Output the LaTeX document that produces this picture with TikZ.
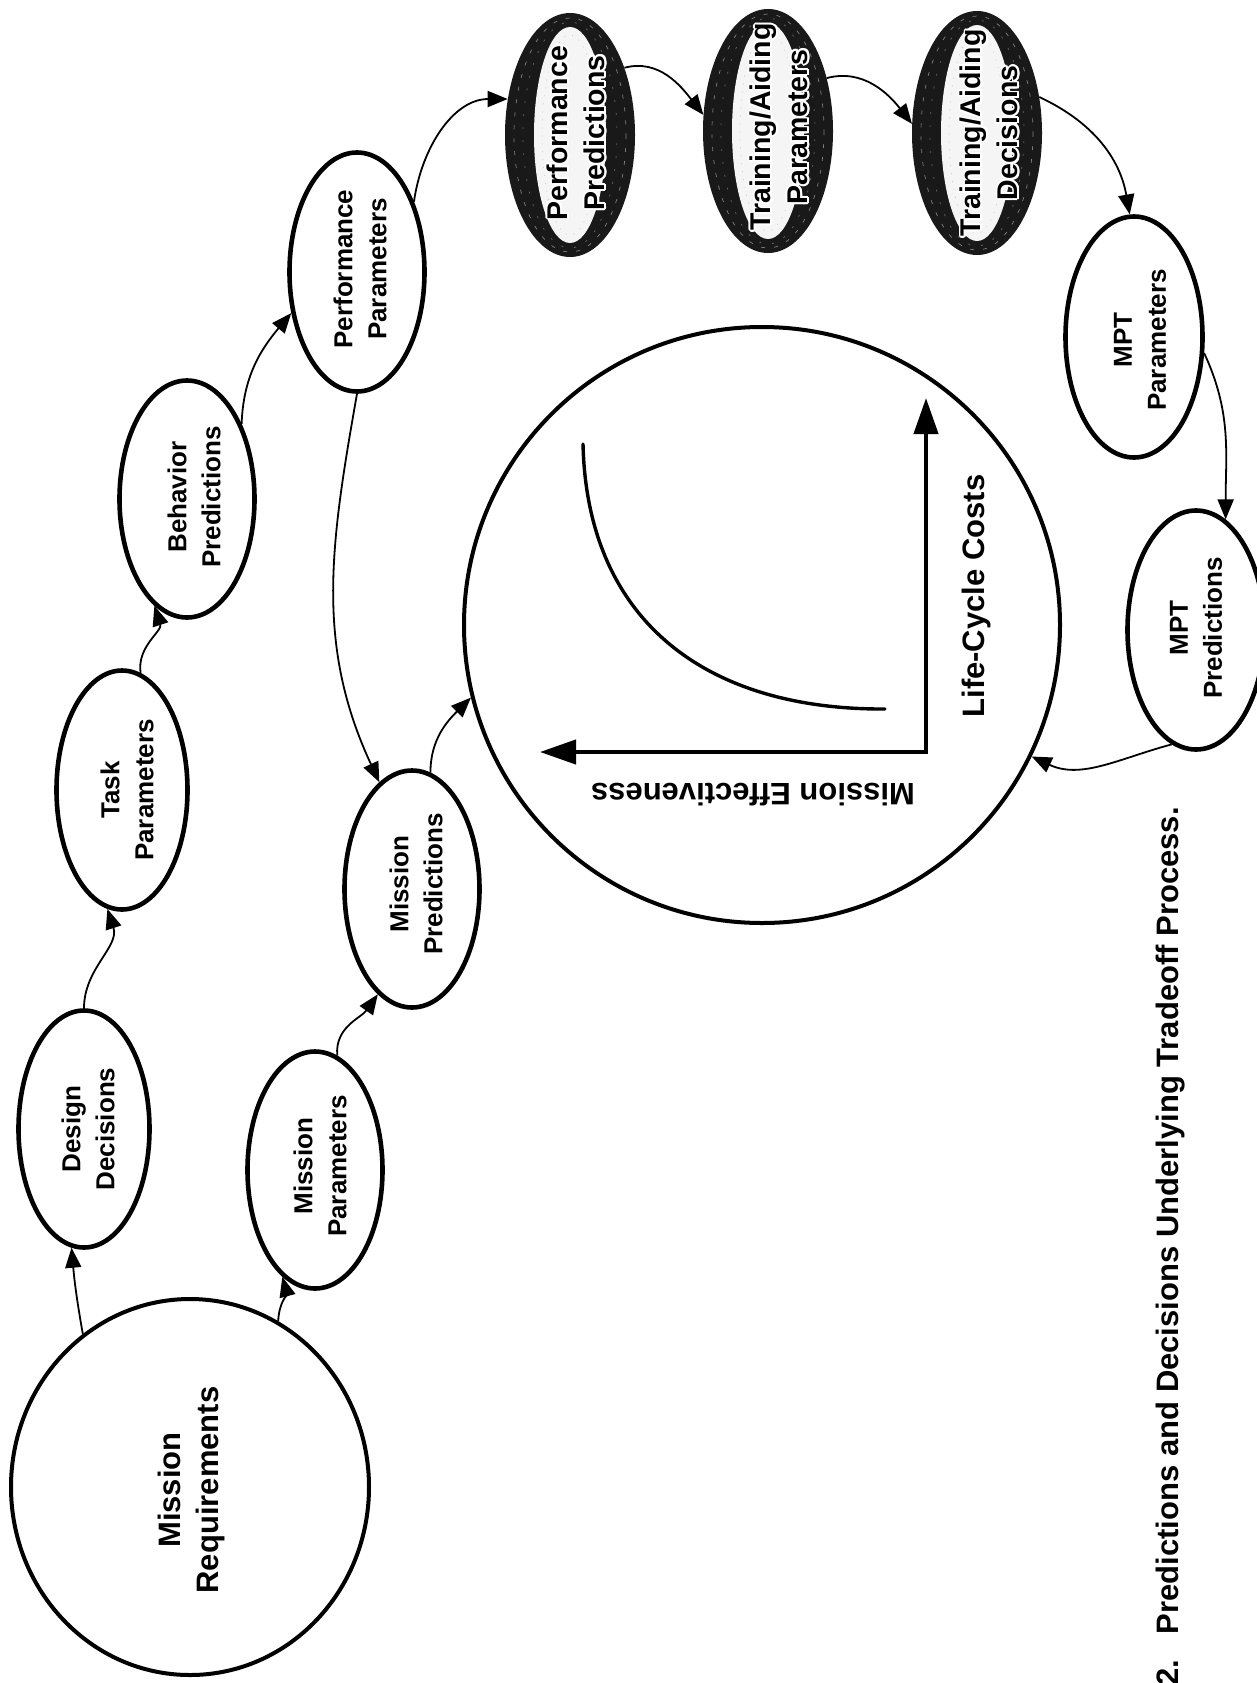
\documentclass[tikz,border=0pt]{standalone}
\usepackage{fontspec}
\setmainfont{Liberation Sans}
\usepackage{contour}
\contourlength{1.8pt}
\usetikzlibrary{shapes.geometric,arrows.meta}
\begin{document}
\begin{tikzpicture}[x=1pt,y=-1pt,
  oval/.style={ellipse, draw=black, line width=4.6pt, inner sep=0pt, fill=white},
  shoval/.style={ellipse, draw=none, fill=black!90, inner sep=0pt, minimum width=130pt, minimum height=244pt},
  small/.style={rotate=90, align=center, inner sep=0pt, font=\fontsize{26}{34}\selectfont\bfseries},
  bigtxt/.style={inner sep=0pt, font=\fontsize{31}{38}\selectfont\bfseries},
  shtext/.style={rotate=90, align=center, inner sep=0pt, font=\fontsize{28.5}{37}\selectfont\bfseries},
  conn/.style={line width=1.8pt, -{Triangle[length=20pt,width=16pt]}},
  axis/.style={line width=4.2pt, {Triangle[length=36pt,width=24pt]}-{Triangle[length=36pt,width=24pt]}},
  curvestyle/.style={line width=3.4pt, line cap=round}
  ]
\useasboundingbox (0,0) rectangle (1256,1683);

% big circles
\node[ellipse, draw, line width=4pt, minimum width=358pt, minimum height=376pt, inner sep=0pt] (MR) at (190,1487) {};
\node[circle, draw, line width=4pt, minimum size=596pt, inner sep=0pt] (G) at (762,625) {};

% plain ovals
\node[oval, minimum width=131pt, minimum height=237pt] (DD) at (84,1129) {};
\node[oval, minimum width=131pt, minimum height=239pt] (TP) at (122,790) {};
\node[oval, minimum width=135pt, minimum height=237pt] (BP) at (187,499) {};
\node[oval, minimum width=135pt, minimum height=239pt] (PP) at (357,272) {};
\node[oval, minimum width=135pt, minimum height=237pt] (MPred) at (412,889) {};
\node[oval, minimum width=135pt, minimum height=237pt] (MP) at (315,1170) {};
\node[oval, minimum width=137pt, minimum height=241pt] (MPTP) at (1134,337) {};
\node[oval, minimum width=137pt, minimum height=239pt] (MPTPr) at (1196,630) {};

% shaded ovals
\node[shoval] (PPred) at (570,135) {};
\node[shoval] (TAP) at (768,131) {};
\node[shoval] (TAD) at (977,133) {};
\foreach \n in {PPred,TAP,TAD} {
  \fill[black!4] (\n.center) ellipse [x radius=36, y radius=108];
  \draw[white!50!black, line width=0.7pt, dash pattern=on 4pt off 9pt] (\n.center) ellipse [x radius=56, y radius=117];
  \draw[white!40!black, line width=0.7pt, dash pattern=on 2pt off 11pt, dash phase=5pt] (\n.center) ellipse [x radius=47, y radius=113];
  \draw[black!25, line width=0.5pt, dash pattern=on 1pt off 7pt] (\n.center) ellipse [x radius=28, y radius=100];
}

% labels
\node[bigtxt, rotate=90, align=center] (MRt) at (191,1490) {Mission\\Requirements};
\node[small] (DDt) at (88,1129) {Design\\Decisions};
\node[small] (TPt) at (127,790) {Task\\Parameters};
\node[small] (BPt) at (194,497) {Behavior\\Predictions};
\node[small] (PPt) at (360,269) {Performance\\Parameters};
\node[small] (MPredt) at (416,884) {Mission\\Predictions};
\node[small] (MPt) at (320,1166) {Mission\\Parameters};
\node[small] (MPTPt) at (1140,340) {MPT\\Parameters};
\node[small] (MPTPrt) at (1196,628) {MPT\\Predictions};
\node[shtext] (PPredt) at (577,133) {\contour{white}{Performance}\\\contour{white}{Predictions}};
\node[shtext] (TAPt) at (780,127) {\contour{white}{Training/Aiding}\\\contour{white}{Parameters}};
\node[shtext] (TADt) at (990,133) {\contour{white}{Training/Aiding}\\\contour{white}{Decisions}};

% graph inside circle
\coordinate (O) at (926,752);
\coordinate (Ytip) at (926,398);
\coordinate (Xtip) at (540,752);
\draw[axis] (Xtip) -- (O) -- (Ytip);
\coordinate (C0) at (583,444);
\coordinate (C1) at (587,620);
\coordinate (C2) at (705,710);
\coordinate (C3) at (885,709);
\draw[curvestyle] (C0) .. controls (C1) and (C2) .. (C3);
\node[bigtxt, rotate=90, anchor=base] (LCC) at (984,596) {Life-Cycle Costs};
\node[bigtxt, rotate=180, anchor=base] (ME) at (753,783) {Mission Effectiveness};

% connectors
\draw[conn] (MR.125) to[out=100,in=-85] (DD.264);
\draw[conn] (MR.62) to[out=88,in=-75] (MP.253);
\draw[conn] (DD.90) to[out=90,in=-72] (TP.263);
\draw[conn] (TP.81) to[out=98,in=-72] (BP.253);
\draw[conn] (BP.54) to[out=88,in=-130] (PP.212);
\draw[conn] (PP.51) to[out=82,in=180] (PPred.150);
\draw[conn] (PP.270) to[out=-100,in=115] (MPred.107);
\draw[conn] (MP.79) to[out=95,in=-125] (MPred.252);
\draw[conn] (MPred.81) to[out=90,in=-135] (G.194);
\draw[conn] (PPred.51) to[out=15,in=128] (TAP.166);
\draw[conn] (TAP.42) to[out=15,in=128] (TAD.172);
\draw[conn] (TAD.30) to[out=-25,in=100] (MPTP.92);
\draw[conn] (MPTP.-13) to[out=-65,in=90] (MPTPr.75);
\draw[conn] (MPTPr.258) to[out=195,in=-25] (G.334);

% caption
\node[bigtxt, rotate=90, anchor=base east] (cap) at (1178,807) {2.\ \ \ Predictions and Decisions Underlying Tradeoff Process.};
\end{tikzpicture}
\end{document}
